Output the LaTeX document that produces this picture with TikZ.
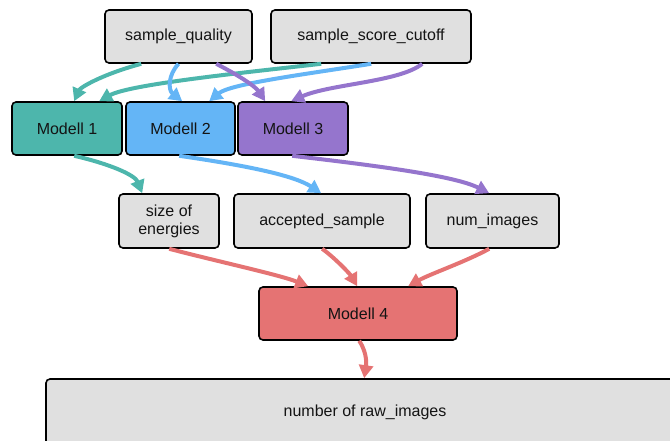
\documentclass[tikz,border=0pt]{standalone}
\usepackage{fontspec}
\setmainfont{Liberation Sans}
\usetikzlibrary{arrows.meta}
\definecolor{boxgray}{HTML}{E0E0E0}
\definecolor{cteal}{HTML}{4DB6AC}
\definecolor{cblue}{HTML}{64B5F6}
\definecolor{cpurple}{HTML}{9575CD}
\definecolor{cred}{HTML}{E57373}
\tikzset{
  lbl/.style={font=\fontsize{16}{18}\selectfont, text=black!92},
  box/.style={draw=black, line width=1.6pt, rounded corners=4pt, fill=boxgray,
    minimum height=53pt, inner sep=2pt, align=center, lbl},
  flow/.style={line width=4pt, -{Triangle[length=13pt,width=14pt]}},
}
\begin{document}
\begin{tikzpicture}[x=1pt, y=-1pt]
\useasboundingbox (0,0) rectangle (670,441);

% input parameters
\node[box, minimum width=147pt] (sq) at (178.5,36.5) {sample\_quality};
\node[box, minimum width=200pt] (ssc) at (371,36.5) {sample\_score\_cutoff};

% first model row
\node[box, fill=cteal, minimum width=110pt] (m1) at (67,128.5) {Modell 1};
\node[box, fill=cblue, minimum width=109pt] (m2) at (180.5,128.5) {Modell 2};
\node[box, fill=cpurple, minimum width=110pt] (m3) at (293,128.5) {Modell 3};

% intermediate quantities
\node[box, minimum width=100pt, minimum height=54pt] (soe) at (169,221) {size of\\energies};
\node[box, minimum width=176pt, minimum height=54pt] (acc) at (322,221) {accepted\_sample};
\node[box, minimum width=133pt, minimum height=54pt] (num) at (492.5,221) {num\_images};

% combining model and result
\node[box, fill=cred, minimum width=198pt] (m4) at (358,313.5) {Modell 4};
\node[box, minimum width=638pt, minimum height=68pt] (out) at (365,413) {};
\node[lbl] (outlbl) at (365,412) {number of raw\_images};

% inputs into the first models
\draw[flow, cteal] ([xshift=37pt]sq.south west) .. controls (100,75) and (80,88) .. ([xshift=63pt]m1.north west);
\draw[flow, cteal] ([xshift=51pt]ssc.south west) .. controls (250,72) and (130,84) .. ([xshift=88pt]m1.north west);
\draw[flow, cblue] (sq.south) .. controls (168,75) and (168,90) .. ([xshift=57pt]m2.north west);
\draw[flow, cblue] ([xshift=101pt]ssc.south west) .. controls (300,75) and (230,84) .. ([xshift=84pt]m2.north west);
\draw[flow, cpurple] ([xshift=112pt]sq.south west) .. controls (238,75) and (255,86) .. ([xshift=28pt]m3.north west);
\draw[flow, cpurple] ([xshift=152pt]ssc.south west) .. controls (400,82) and (330,84) .. ([xshift=54pt]m3.north west);

% first models to intermediate quantities
\draw[flow, cteal] ([xshift=63pt]m1.south west) .. controls (110,164) and (135,175) .. ([xshift=24pt]soe.north west);
\draw[flow, cblue] ([xshift=54pt]m2.south west) .. controls (250,166) and (295,176) .. ([xshift=88pt]acc.north west);
\draw[flow, cpurple] ([xshift=55pt]m3.south west) .. controls (380,166) and (455,176) .. ([xshift=64pt]num.north west);

% intermediate quantities into Modell 4
\draw[flow, cred] ([xshift=51pt]soe.south west) .. controls (220,262) and (280,275) .. ([xshift=50pt]m4.north west);
\draw[flow, cred] ([xshift=89pt]acc.south west) .. controls (335,258) and (350,274) .. ([xshift=99pt]m4.north west);
\draw[flow, cred] ([xshift=64pt]num.south west) .. controls (465,262) and (430,274) .. ([xshift=150pt]m4.north west);

% result
\draw[flow, cred] ([xshift=101pt]m4.south west) .. controls (368,354) and (366,366) .. ([xshift=319pt]out.north west);
\end{tikzpicture}
\end{document}
